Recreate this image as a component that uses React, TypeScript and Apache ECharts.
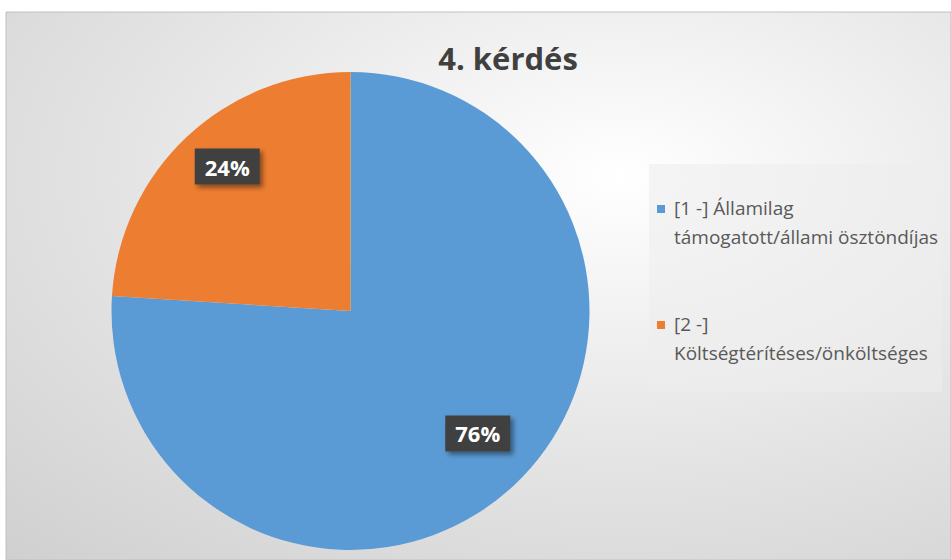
import React, { useEffect, useRef } from "react";
import * as echarts from "echarts";

const TITLE = "4. kérdés";
const CATEGORIES = [
  "[1 -] Államilag\ntámogatott/állami ösztöndíjas",
  "[2 -]\nKöltségtérítéses/önköltséges",
];
const VALUES = [76, 24];
const COLORS = ["#5B9BD5", "#ED7D31"];

export default function App() {
  const ref = useRef<HTMLDivElement>(null);
  useEffect(() => {
    if (!ref.current) return;
    const chart = echarts.init(ref.current, null, { renderer: "svg" });
    const data = CATEGORIES.map((name, i) => ({
      name,
      value: VALUES[i],
      itemStyle: { color: COLORS[i] },
    }));
    const legendGraphics: any[] = [];
    CATEGORIES.forEach((name, i) => {
      const top = 193 + i * 116;
      legendGraphics.push({
        type: "rect",
        shape: { x: 657, y: top + 12, width: 8, height: 8 },
        style: { fill: COLORS[i] },
        z: 10,
      });
      legendGraphics.push({
        type: "text",
        x: 674,
        y: top,
        style: {
          text: name,
          font: "19px 'Open Sans'",
          fill: "#595959",
          lineHeight: 29,
          textVerticalAlign: "top",
        },
        z: 10,
      });
    });
    chart.setOption({
      animation: false,
      title: {
        text: TITLE,
        left: 503,
        top: 37,
        textAlign: "center",
        textStyle: {
          fontFamily: "'Open Sans'",
          fontWeight: "bold",
          fontSize: 31,
          color: "#404040",
        },
      },
      graphic: [
        {
          type: "rect",
          shape: { x: 6, y: 12, width: 945, height: 548 },
          style: {
            fill: {
              type: "radial",
              x: 0.65,
              y: 0.3,
              r: 1.25,
              colorStops: [
                { offset: 0, color: "#ffffff" },
                { offset: 0.45, color: "#e2e2e2" },
                { offset: 1, color: "#c2c2c2" },
              ],
            },
            stroke: "#c0c0c0",
            lineWidth: 1,
          },
          z: -10,
          silent: true,
        },
        {
          type: "rect",
          shape: { x: 649, y: 164, width: 293, height: 228 },
          style: { fill: "rgba(237,237,237,0.56)" },
          z: 5,
          silent: true,
        },
        ...legendGraphics,
      ],
      series: [
        {
          type: "pie",
          center: [350.5, 311],
          radius: [0, 239],
          startAngle: 90,
          clockwise: true,
          data,
          label: { show: false },
          labelLine: { show: false },
          silent: true,
        },
        {
          type: "pie",
          center: [350.5, 311],
          radius: [120, 240],
          startAngle: 90,
          clockwise: true,
          data: data.map((d) => ({ ...d, itemStyle: { color: "transparent" } })),
          silent: true,
          z: 5,
          label: {
            show: true,
            position: "inside",
            formatter: (p: any) => `${p.value}%`,
            fontFamily: "'Open Sans'",
            fontWeight: "bold",
            fontSize: 22,
            color: "#ffffff",
            backgroundColor: "#404040",
            padding: [7, 10, 7, 10],
            shadowColor: "rgba(0,0,0,0.45)",
            shadowBlur: 5,
            shadowOffsetX: 3,
            shadowOffsetY: 3,
          },
          labelLayout: { dy: -11, dx: 2 },
          labelLine: { show: false },
        },
      ],
    });
    return () => chart.dispose();
  }, []);
  return (
    <div
      ref={ref}
      style={{ position: "fixed", left: 0, top: 0, width: 951, height: 560, background: "#ffffff" }}
    />
  );
}
